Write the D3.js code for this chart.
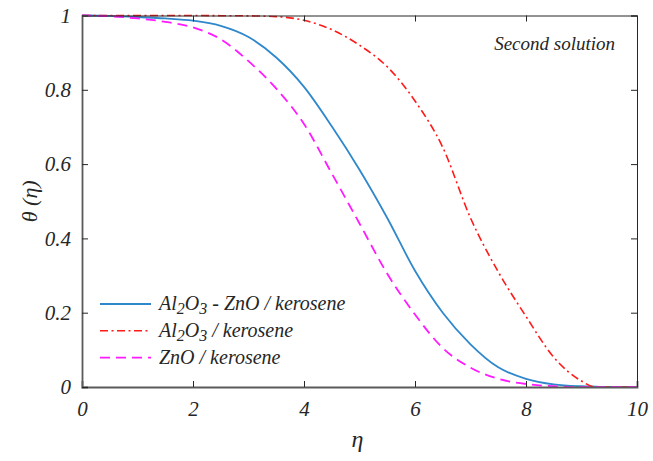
<!DOCTYPE html>
<html>
<head>
<meta charset="utf-8">
<script src="https://cdn.jsdelivr.net/npm/d3@7/dist/d3.min.js"></script>
<style>
  html, body { margin: 0; padding: 0; background: #fff; }
  svg { display: block; }
  svg text { font-family: "Liberation Serif", "Times New Roman", Times, "DejaVu Serif", serif; font-style: italic; fill: #262626; }
</style>
</head>
<body>
<svg id="chart" width="653" height="461"></svg>
<script>
// Similarity variable eta
const eta = [0, 0.5, 1, 1.5, 2, 2.5, 3, 3.5, 4, 4.5, 5, 5.5, 6, 6.5, 7, 7.5, 8, 8.5, 9, 9.25, 9.5, 10];

// Temperature profiles theta(eta), second solution
const thetaHybrid = [1, 0.999, 0.996, 0.992, 0.986, 0.972, 0.942, 0.887, 0.808, 0.702, 0.585, 0.455, 0.313, 0.200, 0.115, 0.053, 0.022, 0.007, 0.002, 0.001, 0, 0];
const thetaAl2O3  = [1, 1, 1, 1, 1, 0.9995, 0.999, 0.997, 0.987, 0.962, 0.920, 0.862, 0.770, 0.645, 0.455, 0.310, 0.190, 0.080, 0.016, 0, 0, 0];
const thetaZnO    = [1, 0.998, 0.992, 0.983, 0.968, 0.936, 0.877, 0.803, 0.708, 0.575, 0.440, 0.305, 0.195, 0.105, 0.052, 0.022, 0.008, 0.002, 0, 0, 0, 0];

const xTicks = [0, 2, 4, 6, 8, 10];
const yTicks = [0, 0.2, 0.4, 0.6, 0.8, 1];
const yTickLabels = ["0", "0.2", "0.4", "0.6", "0.8", "1"];

const series = [
  { name: ["Al", "2", "O", "3", " - ZnO / kerosene"], values: thetaHybrid, color: "#2f88cc", dash: null, width: 1.8 },
  { name: ["Al", "2", "O", "3", " / kerosene"], values: thetaAl2O3, color: "#ff1a1a", dash: "8,3.5,2,3.5", width: 1.6 },
  { name: ["ZnO / kerosene"], values: thetaZnO, color: "#ff1aff", dash: "10,6", width: 1.8 }
];

const serif = "'Liberation Serif', 'Times New Roman', Times, 'DejaVu Serif', serif";
const margin = { left: 82, right: 16, top: 15.5, bottom: 74 };
const W = 653, H = 461;
const x = d3.scaleLinear().domain([0, 10]).range([margin.left, W - margin.right]);
const y = d3.scaleLinear().domain([0, 1]).range([H - margin.bottom, margin.top]);

const svg = d3.select("#chart");
const g = svg.append("g").attr("font-family", serif).attr("font-style", "italic");

// Curves
const line = d3.line()
  .x((d, i) => x(eta[i]))
  .y(d => y(d))
  .curve(d3.curveMonotoneX);

svg.append("defs").append("clipPath").attr("id", "plot-clip")
  .append("rect")
  .attr("x", x(0)).attr("y", y(1) - 3)
  .attr("width", x(10) - x(0)).attr("height", y(0) - y(1) + 3);

const curves = g.append("g").attr("clip-path", "url(#plot-clip)");
series.forEach(s => {
  curves.append("path")
    .datum(s.values)
    .attr("d", line)
    .attr("fill", "none")
    .attr("stroke", s.color)
    .attr("stroke-width", s.width)
    .attr("stroke-dasharray", s.dash);
});

// Axes (ticks pointing inward, mirrored on top and right)
const tickLen = 6;
const xAxisBottom = d3.axisBottom(x).tickValues(xTicks).tickSize(-tickLen).tickPadding(14).tickFormat(d3.format("d"));
const xAxisTop = d3.axisTop(x).tickValues(xTicks).tickSize(-tickLen).tickFormat("");
const yAxisLeft = d3.axisLeft(y).tickValues(yTicks).tickSize(-tickLen).tickPadding(11)
  .tickFormat((d, i) => yTickLabels[i]);
const yAxisRight = d3.axisRight(y).tickValues(yTicks).tickSize(-tickLen).tickFormat("");

function styleAxis(sel, color, width) {
  sel.attr("font-family", serif).attr("font-size", 21);
  sel.select(".domain").attr("stroke", color).attr("stroke-width", width);
  sel.selectAll(".tick line").attr("stroke", "#262626").attr("stroke-width", 1);
  sel.selectAll(".tick text")
    .attr("font-style", "italic")
    .attr("fill", "#262626");
}

g.append("g").attr("transform", `translate(0,${y(1)})`).call(xAxisTop).call(s => styleAxis(s, "#262626", 1));
g.append("g").attr("transform", `translate(${x(10)},0)`).call(yAxisRight).call(s => styleAxis(s, "#262626", 1));
g.append("g").attr("transform", `translate(0,${y(0)})`).call(xAxisBottom).call(s => styleAxis(s, "#5a5a5a", 1.8));
g.append("g").attr("transform", `translate(${x(0)},0)`).call(yAxisLeft).call(s => styleAxis(s, "#5a5a5a", 1.8));

// Axis titles
g.append("text")
  .attr("x", (x(0) + x(10)) / 2 - 2)
  .attr("y", 447)
  .attr("text-anchor", "middle")
  .attr("font-size", 24)
  .text("η");

g.append("text")
  .attr("transform", `translate(37,${(y(0) + y(1)) / 2}) rotate(-90)`)
  .attr("text-anchor", "middle")
  .attr("font-size", 22)
  .text("θ (η)");

// Annotation
g.append("text")
  .attr("x", 615)
  .attr("y", 50)
  .attr("text-anchor", "end")
  .attr("font-size", 19)
  .text("Second solution");

// Legend
const legend = g.append("g");
const legY0 = 304, legDy = 26.8;
series.forEach((s, i) => {
  const ly = legY0 + i * legDy;
  legend.append("line")
    .attr("x1", 100).attr("x2", 151)
    .attr("y1", ly).attr("y2", ly)
    .attr("stroke", s.color)
    .attr("stroke-width", s.width)
    .attr("stroke-dasharray", s.dash);
  const t = legend.append("text")
    .attr("x", 159)
    .attr("y", ly + 6)
    .attr("font-size", 20);
  s.name.forEach((part, j) => {
    const isSub = s.name.length > 1 && (j === 1 || j === 3);
    t.append("tspan")
      .attr("dy", isSub ? 4 : (j > 0 ? -4 : 0))
      .attr("font-size", isSub ? 16 : 20)
      .text(part);
  });
});
</script>
</body>
</html>
